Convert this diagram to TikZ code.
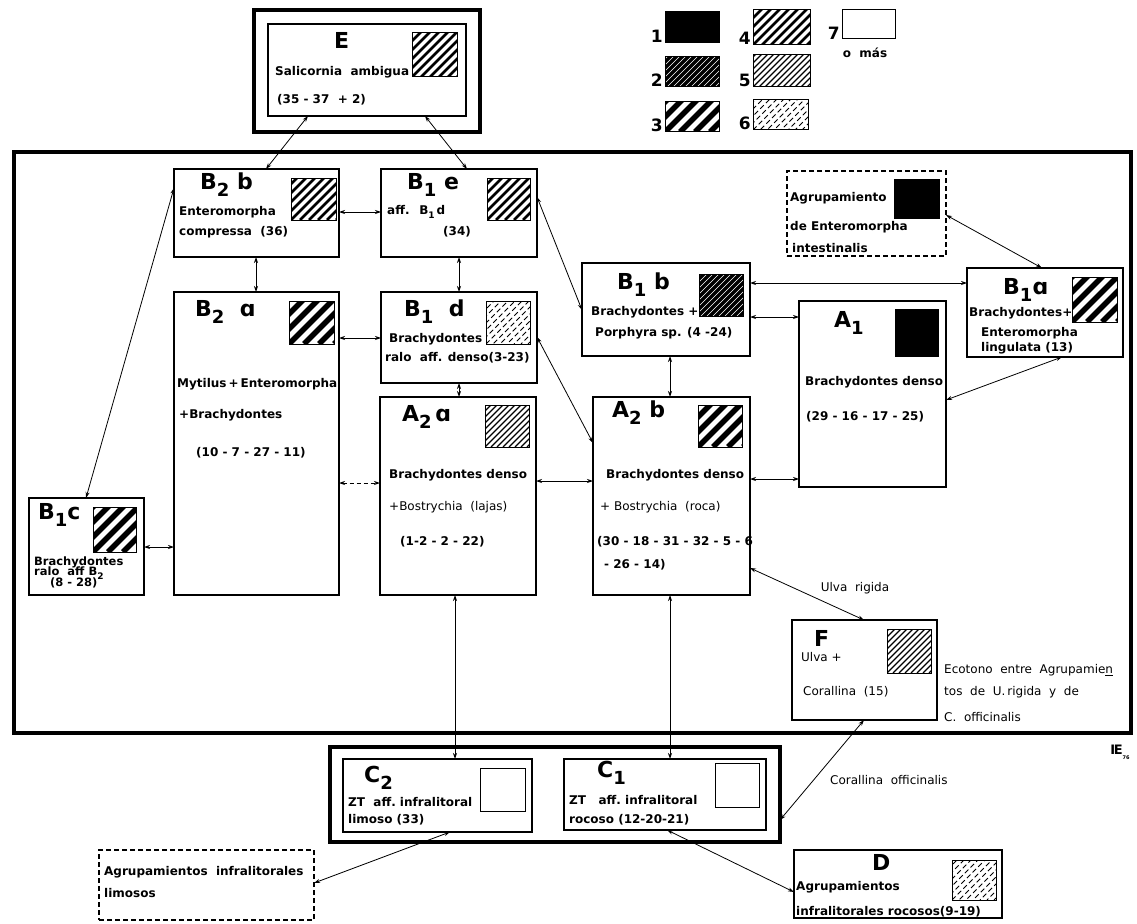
\documentclass[tikz,border=0pt]{standalone}
\usepackage{fontspec}
\setmainfont{DejaVu Sans}
\usetikzlibrary{arrows.meta}
\newcommand{\Lb}[3]{#1\raisebox{-0.32em}{\fontsize{18}{18}\selectfont #2}#3}
\newcommand{\sbs}[1]{\raisebox{-0.3em}{\fontsize{9}{9}\selectfont #1}}
\begin{document}
\begin{tikzpicture}[x=1pt,y=-1pt,
  box/.style={draw, line width=1.1pt, anchor=north west, inner sep=0pt, outer sep=0pt},
  frm/.style={draw, line width=3.6pt, anchor=north west, inner sep=0pt, outer sep=0pt},
  dbox/.style={box, dash pattern=on 5pt off 3pt},
  sq/.style={draw, line width=1pt, anchor=north west, inner sep=0pt, outer sep=0pt},
  tx/.style={anchor=west, inner sep=0pt, font=\bfseries\fontsize{12}{14}\selectfont},
  txs/.style={anchor=west, inner sep=0pt, font=\bfseries\fontsize{11.5}{12}\selectfont},
  txr/.style={anchor=west, inner sep=0pt, font=\fontsize{12}{14}\selectfont},
  lab/.style={anchor=west, inner sep=0pt, font=\bfseries\fontsize{22}{22}\selectfont},
  num/.style={anchor=south east, inner sep=0pt, font=\bfseries\fontsize{17}{17}\selectfont},
  ln/.style={line width=0.8pt, {Stealth[length=6pt,width=4pt]}-{Stealth[length=6pt,width=4pt]}},
  h1/.style={fill=black},
  h2/.style={fill=black, path picture={\foreach \k in {-70,-64,...,70} \draw[white, line width=0.45pt] ([xshift=\k pt]path picture bounding box.south west) -- ++(90pt,90pt);}},
  h3/.style={path picture={\foreach \k in {-75,-60,...,75} \draw[line width=5.5pt] ([xshift=\k pt]path picture bounding box.south west) -- ++(90pt,90pt);}},
  h4/.style={path picture={\foreach \k in {-72,-63,...,72} \draw[line width=2.6pt] ([xshift=\k pt]path picture bounding box.south west) -- ++(90pt,90pt);}},
  h5/.style={path picture={\foreach \k in {-72,-66,...,72} \draw[line width=1.1pt] ([xshift=\k pt]path picture bounding box.south west) -- ++(90pt,90pt);}},
  h6/.style={path picture={\foreach \k in {-70,-63,...,70} \draw[line width=0.9pt, dash pattern=on 5pt off 3pt, dash phase=\k pt] ([xshift=\k pt]path picture bounding box.south west) -- ++(90pt,90pt);}},
]
\useasboundingbox[fill=white] (0,0) rectangle (1137,923);

% ---------- frames and boxes ----------
\node[frm, minimum width=226pt, minimum height=122pt] (Eout) at (254,10) {};
\node[box, minimum width=198pt, minimum height=92pt] (Ein) at (268,24) {};
\node[frm, minimum width=1117pt, minimum height=581pt] (frame) at (14,152) {};
\node[box, minimum width=165pt, minimum height=88pt] (B2b) at (174,169) {};
\node[box, minimum width=156pt, minimum height=88pt] (B1e) at (381,169) {};
\node[box, minimum width=165pt, minimum height=303pt] (B2a) at (174,292) {};
\node[box, minimum width=156pt, minimum height=91pt] (B1d) at (381,292) {};
\node[box, minimum width=156pt, minimum height=198pt] (A2a) at (380,397) {};
\node[box, minimum width=115pt, minimum height=97pt] (B1c) at (29,498) {};
\node[box, minimum width=168pt, minimum height=93pt] (B1b) at (582,263) {};
\node[box, minimum width=147pt, minimum height=186pt] (A1) at (799,301) {};
\node[box, minimum width=156pt, minimum height=89pt] (B1a) at (967,268) {};
\node[box, minimum width=157pt, minimum height=198pt] (A2b) at (593,397) {};
\node[dbox, minimum width=159pt, minimum height=85pt] (Ag) at (787,171) {};
\node[box, minimum width=145pt, minimum height=100pt] (F) at (792,620) {};
\node[frm, minimum width=450pt, minimum height=95pt] (Cout) at (330,747) {};
\node[box, minimum width=189pt, minimum height=73pt] (C2) at (343,759) {};
\node[box, minimum width=202pt, minimum height=71pt] (C1) at (564,759) {};
\node[box, minimum width=208pt, minimum height=68pt] (D) at (794,850) {};
\node[dbox, minimum width=215pt, minimum height=70pt] (AgL) at (99,850) {};

% ---------- pattern squares ----------
\node[sq, h4, minimum width=45pt, minimum height=44pt] (hE) at (412,33) {};
\node[sq, h4, minimum width=45pt, minimum height=42pt] (hB2b) at (291,178) {};
\node[sq, h4, minimum width=43pt, minimum height=42pt] (hB1e) at (487,178) {};
\node[sq, h3, minimum width=45pt, minimum height=43pt] (hB2a) at (289,301) {};
\node[sq, h6, minimum width=44pt, minimum height=43pt] (hB1d) at (486,301) {};
\node[sq, h5, minimum width=44pt, minimum height=42pt] (hA2a) at (485,405) {};
\node[sq, h3, minimum width=43pt, minimum height=45pt] (hB1c) at (93,507) {};
\node[sq, h2, minimum width=44pt, minimum height=42pt] (hB1b) at (699,274) {};
\node[sq, h1, minimum width=43pt, minimum height=47pt] (hA1) at (895,309) {};
\node[sq, h3, minimum width=45pt, minimum height=45pt] (hB1a) at (1072,277) {};
\node[sq, h3, minimum width=44pt, minimum height=42pt] (hA2b) at (698,405) {};
\node[sq, h5, minimum width=44pt, minimum height=44pt] (hF) at (887,629) {};
\node[sq, minimum width=45pt, minimum height=43pt] (hC2) at (480,768) {};
\node[sq, minimum width=44pt, minimum height=44pt] (hC1) at (715,763) {};
\node[sq, h6, minimum width=44pt, minimum height=40pt] (hD) at (952,860) {};
\node[sq, h1, minimum width=45pt, minimum height=39pt] (hAg) at (894,179) {};

% ---------- legend ----------
\node[sq, h1, minimum width=54pt, minimum height=31pt] (L1) at (665,12) {};
\node[sq, h2, minimum width=54pt, minimum height=30pt] (L2) at (665,57) {};
\node[sq, h3, minimum width=54pt, minimum height=30pt] (L3) at (665,102) {};
\node[sq, h4, minimum width=57pt, minimum height=35pt] (L4) at (753,10) {};
\node[sq, h5, minimum width=57pt, minimum height=32pt] (L5) at (753,55) {};
\node[sq, h6, minimum width=55pt, minimum height=30pt] (L6) at (753,100) {};
\node[sq, minimum width=53pt, minimum height=29pt] (L7) at (842,10) {};
\node[num] (n1) at (663,43) {1};
\node[num] (n2) at (663,87) {2};
\node[num] (n3) at (663,132) {3};
\node[num] (n4) at (751,45) {4};
\node[num] (n5) at (751,87) {5};
\node[num] (n6) at (751,130) {6};
\node[num] (n7) at (840,40) {7};
\node[inner sep=0pt, font=\bfseries\fontsize{12}{12}\selectfont] (om) at (865,53) {o~ más};

% ---------- texts ----------
\node[lab] (tE) at (334,40) {E};
\node[tx] (tE1) at (275,72) {Salicornia~ ambigua};
\node[tx] (tE2) at (277,100) {(35 - 37 ~+ 2)};

\node[lab] (tB2b) at (200,185) {\Lb{B}{2}{\ b}};
\node[tx] (tB2b1) at (179,212) {Enteromorpha};
\node[tx] (tB2b2) at (179,232) {compressa~ (36)};

\node[lab] (tB1e) at (407,185) {\Lb{B}{1}{\ e}};
\node[tx] (tB1e1) at (387,212) {aff.~ B\sbs{1}\,d};
\node[tx] (tB1e2) at (443,232) {(34)};

\node[lab] (tB2a) at (195,312) {\Lb{B}{2}{\ \ ɑ}};
\node[tx] (tB2a1) at (177,384) {Mytilus\,+\,Enteromorpha};
\node[tx] (tB2a2) at (179,415) {+Brachydontes};
\node[tx] (tB2a3) at (196,453) {(10 - 7 - 27 - 11)};

\node[lab] (tB1d) at (404,312) {\Lb{B}{1}{\ \ d}};
\node[tx] (tB1d1) at (389,339) {Brachydontes};
\node[tx] (tB1d2) at (385,358) {ralo~ aff. denso(3-23)};

\node[lab] (tA2a) at (402,417) {\Lb{A}{2}{\,ɑ}};
\node[tx] (tA2a1) at (389,475) {Brachydontes denso};
\node[txr] (tA2a2) at (389,507) {+Bostrychia~ (lajas)};
\node[tx] (tA2a3) at (400,542) {(1-2 - 2 - 22)};

\node[lab] (tB1c) at (38,515) {\Lb{B}{1}{c}};
\node[txs] (tB1c1) at (34,562) {Brachydontes};
\node[txs] (tB1c2) at (34,573) {ralo~ aff B\sbs{2}};
\node[txs] (tB1c3) at (50,583) {(8 - 28)};

\node[lab] (tB1b) at (617,285) {\Lb{B}{1}{\ b}};
\node[tx] (tB1b1) at (591,312) {Brachydontes +};
\node[tx] (tB1b2) at (595,333) {Porphyra sp. (4 -24)};

\node[lab] (tA1) at (834,323) {\Lb{A}{1}{}};
\node[tx] (tA11) at (805,382) {Brachydontes denso};
\node[tx] (tA12) at (806,417) {(29 - 16 - 17 - 25)};

\node[lab] (tB1a) at (1003,290) {\Lb{B}{1}{ɑ}};
\node[tx] (tB1a1) at (969,313) {Brachydontes+};
\node[tx] (tB1a2) at (981,333) {Enteromorpha};
\node[tx] (tB1a3) at (981,348) {lingulata (13)};

\node[tx] (tAg1) at (790,198) {Agrupamiento};
\node[tx] (tAg2) at (790,227) {de Enteromorpha};
\node[tx] (tAg3) at (792,248) {intestinalis};

\node[lab] (tA2b) at (612,413) {\Lb{A}{2}{\ b}};
\node[tx] (tA2b1) at (606,475) {Brachydontes denso};
\node[txr] (tA2b2) at (600,507) {+ Bostrychia~ (roca)};
\node[tx] (tA2b3) at (597,542) {(30 - 18 - 31 - 32 - 5 - 6};
\node[tx] (tA2b4) at (604,565) {- 26 - 14)};

\node[lab] (tF) at (814,638) {F};
\node[txr] (tF1) at (801,657) {Ulva +};
\node[txr] (tF2) at (803,692) {Corallina~ (15)};

\node[txr] (tEc1) at (944,670) {Ecotono~ entre~ Agrupamie\underline{n}};
\node[txr] (tEc2) at (944,692) {tos~ de~ U.\,rigida~ y~ de};
\node[txr] (tEc3) at (944,717) {C.~ officinalis};

\node[inner sep=0pt, font=\fontsize{12}{14}\selectfont] (tUr) at (855,588) {Ulva~ rigida};
\node[txr] (tCo) at (830,780) {Corallina~ officinalis};

\node[lab] (tC2) at (364,778) {\Lb{C}{2}{}};
\node[tx] (tC21) at (348,802) {ZT~ aff.~infralitoral};
\node[tx] (tC22) at (348,820) {limoso (33)};

\node[lab] (tC1) at (597,773) {\Lb{C}{1}{}};
\node[tx] (tC11) at (569,800) {ZT~ ~aff.~infralitoral};
\node[tx] (tC12) at (569,820) {rocoso (12-20-21)};

\node[lab] (tD) at (872,862) {D};
\node[tx] (tD1) at (796,887) {Agrupamientos};
\node[tx] (tD2) at (796,912) {infralitorales rocosos(9-19)};

\node[tx] (tL1) at (104,872) {Agrupamientos~ infralitorales};
\node[tx] (tL2) at (104,893) {limosos};

\node[inner sep=0pt, font=\bfseries\fontsize{13}{13}\selectfont] (sig) at (1120,752) {I\kern-1.5pt E\raisebox{-5pt}{\fontsize{5}{5}\selectfont 76}};

% ---------- connectors ----------
\draw[ln] ([shift={(40,0)}]Ein.south west) -- ([shift={(92,0)}]B2b.north west);
\draw[ln] ([shift={(157,0)}]Ein.south west) -- ([shift={(86,0)}]B1e.north west);
\draw[ln] ([shift={(0,43)}]B2b.north east) -- ([shift={(0,43)}]B1e.north west);
\draw[ln] ([shift={(82,0)}]B2b.south west) -- ([shift={(82,0)}]B2a.north west);
\draw[ln] ([shift={(78,0)}]B1e.south west) -- ([shift={(78,0)}]B1d.north west);
\draw[ln] ([shift={(0,19)}]B2b.north west) -- ([shift={(57,0)}]B1c.north west);
\draw[ln] ([shift={(0,28)}]B1e.north east) -- ([shift={(0,47)}]B1b.north west);
\draw[ln] ([shift={(0,46)}]B2a.north east) -- ([shift={(0,46)}]B1d.north west);
\draw[ln] ([shift={(78,0)}]B1d.south west) -- ([shift={(79,0)}]A2a.north west);
\draw[ln] ([shift={(0,45)}]B1d.north east) -- ([shift={(0,46)}]A2b.north west);
\draw[ln, dash pattern=on 4pt off 3pt] ([shift={(0,191)}]B2a.north east) -- ([shift={(0,86)}]A2a.north west);
\draw[ln] ([shift={(0,49)}]B1c.north east) -- ([shift={(0,255)}]B2a.north west);
\draw[ln] ([shift={(0,84)}]A2a.north east) -- ([shift={(0,84)}]A2b.north west);
\draw[ln] ([shift={(0,82)}]A2b.north east) -- ([shift={(0,178)}]A1.north west);
\draw[ln] ([shift={(0,20)}]B1b.north east) -- ([shift={(0,15)}]B1a.north west);
\draw[ln] ([shift={(0,54)}]B1b.north east) -- ([shift={(0,16)}]A1.north west);
\draw[ln] ([shift={(88,0)}]B1b.south west) -- ([shift={(77,0)}]A2b.north west);
\draw[ln] ([shift={(0,44)}]Ag.north east) -- ([shift={(75,0)}]B1a.north west);
\draw[ln] ([shift={(0,99)}]A1.north east) -- ([shift={(95,0)}]B1a.south west);
\draw[ln] ([shift={(0,171)}]A2b.north east) -- ([shift={(72,0)}]F.north west);
\draw[ln] ([shift={(72,0)}]F.south west) -- ([shift={(0,73)}]Cout.north east);
\draw[ln] ([shift={(75,0)}]A2a.south west) -- ([shift={(112,0)}]C2.north west);
\draw[ln] ([shift={(77,0)}]A2b.south west) -- ([shift={(106,0)}]C1.north west);
\draw[ln] ([shift={(107,0)}]C2.south west) -- ([shift={(0,33)}]AgL.north east);
\draw[ln] ([shift={(103,0)}]C1.south west) -- ([shift={(0,42)}]D.north west);
\end{tikzpicture}
\end{document}
